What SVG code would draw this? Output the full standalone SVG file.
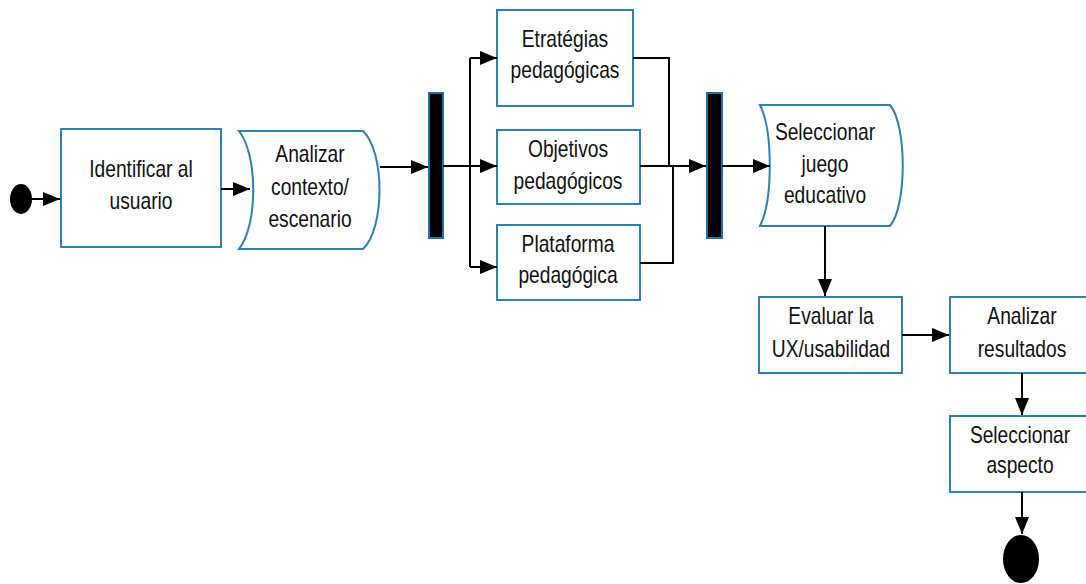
<svg xmlns="http://www.w3.org/2000/svg" width="1086" height="584" viewBox="0 0 1086 584">
<defs>
<marker id="ah" markerWidth="17" markerHeight="14" refX="17" refY="7" orient="auto" markerUnits="userSpaceOnUse">
<path d="M0,0 L17,7 L0,14 Z" fill="#000"/>
</marker>
<style>
.box{fill:#fff;stroke:#2f7fba;stroke-width:2}
.bar{fill:#000;stroke:#1f6fa8;stroke-width:2}
.ln{fill:none;stroke:#000;stroke-width:2}
.ar{fill:none;stroke:#000;stroke-width:2;marker-end:url(#ah)}
.t{font-family:"Liberation Sans",Arial,sans-serif;font-size:24px;fill:#111;text-anchor:middle}
</style>
</defs>
<rect width="1086" height="584" fill="#fff"/>
<g id="start"><ellipse cx="21" cy="199" rx="11" ry="15" fill="#000"/></g>
<g id="identificar">
<rect class="box" x="61" y="129" width="160" height="118"/>
<text class="t" transform="matrix(0.8 0 0 1 141 0)"><tspan x="0" y="177">Identificar al</tspan><tspan x="0" y="209">usuario</tspan></text>
</g>
<g id="analizar-contexto">
<path class="box" d="M239,131 H363 C385,152 385,228 363,249 H239 C258,225 258,155 239,131 Z"/>
<text class="t" transform="matrix(0.8 0 0 1 310 0)"><tspan x="0" y="162">Analizar</tspan><tspan x="0" y="195">contexto/</tspan><tspan x="0" y="227">escenario</tspan></text>
</g>
<g id="fork"><rect class="bar" x="429" y="93" width="14" height="145"/></g>
<g id="estrategias">
<rect class="box" x="497" y="10" width="136" height="96"/>
<text class="t" transform="matrix(0.8 0 0 1 565 0)"><tspan x="0" y="47">Etratégias</tspan><tspan x="0" y="78">pedagógicas</tspan></text>
</g>
<g id="objetivos">
<rect class="box" x="497" y="130" width="143" height="74"/>
<text class="t" transform="matrix(0.8 0 0 1 568 0)"><tspan x="0" y="157">Objetivos</tspan><tspan x="0" y="189">pedagógicos</tspan></text>
</g>
<g id="plataforma">
<rect class="box" x="497" y="225" width="143" height="75"/>
<text class="t" transform="matrix(0.8 0 0 1 568 0)"><tspan x="0" y="252">Plataforma</tspan><tspan x="0" y="283">pedagógica</tspan></text>
</g>
<g id="join"><rect class="bar" x="707" y="93" width="15" height="145"/></g>
<g id="seleccionar-juego">
<path class="box" d="M760,105 H890 C907,125 907,206 890,226 H760 C773,200 773,131 760,105 Z"/>
<text class="t" transform="matrix(0.8 0 0 1 825 0)"><tspan x="0" y="140">Seleccionar</tspan><tspan x="0" y="172">juego</tspan><tspan x="0" y="203">educativo</tspan></text>
</g>
<g id="evaluar">
<rect class="box" x="759" y="297" width="143" height="76"/>
<text class="t" transform="matrix(0.8 0 0 1 831 0)"><tspan x="0" y="324">Evaluar la</tspan><tspan x="0" y="357">UX/usabilidad</tspan></text>
</g>
<g id="analizar-resultados">
<rect class="box" x="950" y="297" width="145" height="76"/>
<text class="t" transform="matrix(0.8 0 0 1 1022 0)"><tspan x="0" y="324">Analizar</tspan><tspan x="0" y="357">resultados</tspan></text>
</g>
<g id="seleccionar-aspecto">
<rect class="box" x="950" y="416" width="145" height="76"/>
<text class="t" transform="matrix(0.8 0 0 1 1020 0)"><tspan x="0" y="443">Seleccionar</tspan><tspan x="0" y="473">aspecto</tspan></text>
</g>
<g id="end"><ellipse cx="1021" cy="559" rx="18" ry="24" fill="#000"/></g>
<g id="connectors">
<line class="ar" x1="32" y1="199" x2="60" y2="199"/>
<line class="ar" x1="221" y1="189" x2="250" y2="189"/>
<line class="ar" x1="380" y1="167" x2="428" y2="167"/>
<line class="ln" x1="443" y1="166" x2="470" y2="166"/>
<line class="ln" x1="470" y1="58" x2="470" y2="267"/>
<line class="ar" x1="470" y1="58" x2="497" y2="58"/>
<line class="ar" x1="470" y1="166" x2="497" y2="166"/>
<line class="ar" x1="470" y1="267" x2="497" y2="267"/>
<polyline class="ln" points="633,58 669,58 669,166"/>
<polyline class="ln" points="640,263 673,263 673,166"/>
<line class="ar" x1="640" y1="166" x2="706" y2="166"/>
<line class="ar" x1="722" y1="166" x2="770" y2="166"/>
<line class="ar" x1="825" y1="226" x2="825" y2="296"/>
<line class="ar" x1="902" y1="335" x2="949" y2="335"/>
<line class="ar" x1="1022" y1="373" x2="1022" y2="415"/>
<line class="ar" x1="1022" y1="492" x2="1022" y2="534"/>
</g>
</svg>
